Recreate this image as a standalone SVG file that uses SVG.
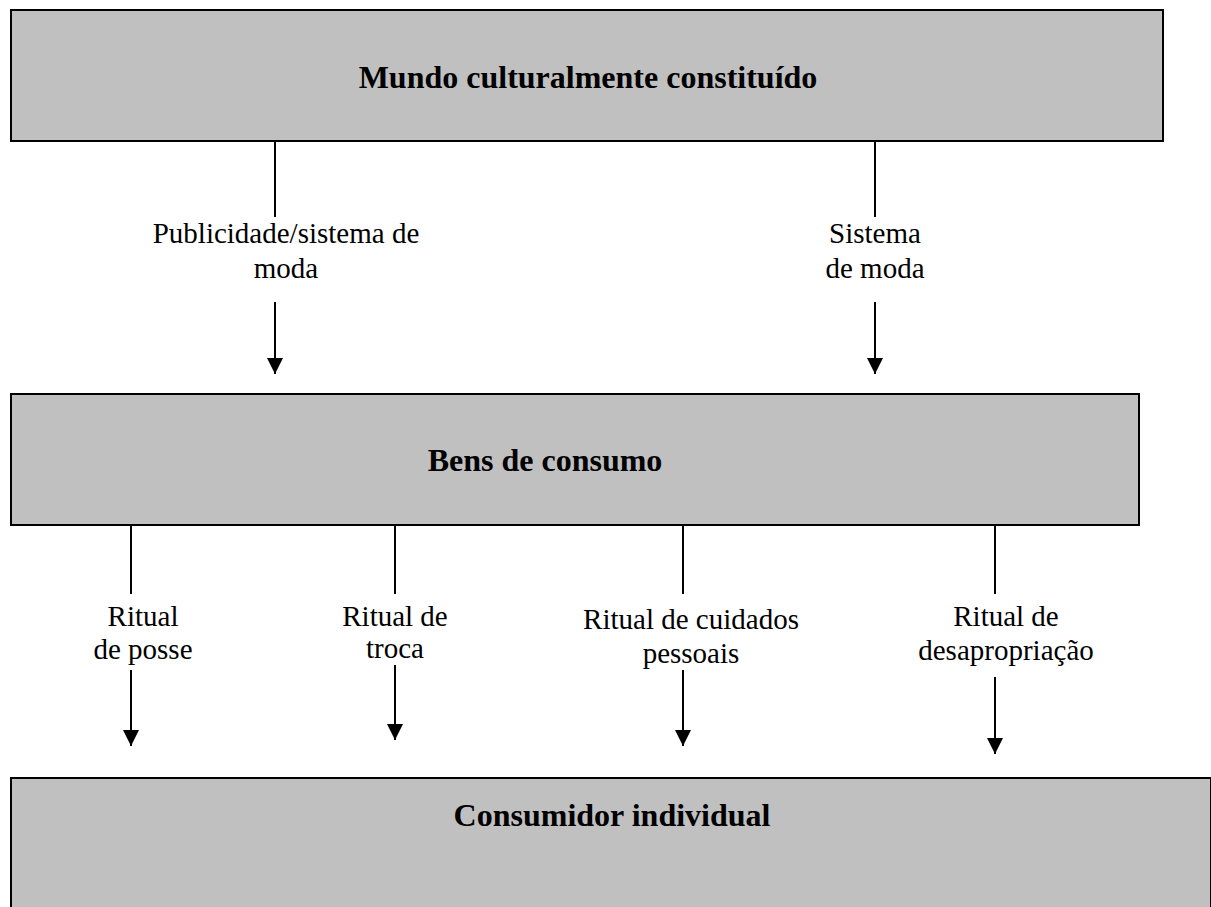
<svg xmlns="http://www.w3.org/2000/svg" width="1211" height="907" viewBox="0 0 1211 907">
<style>
.box{fill:#c0c0c0;stroke:#000;stroke-width:2}
.t{font-family:"Liberation Serif","Times New Roman",serif;font-weight:bold;font-size:32px;text-anchor:middle;fill:#000}
.l{font-family:"Liberation Serif","Times New Roman",serif;font-size:29px;text-anchor:middle;fill:#000}
.c{stroke:#000;stroke-width:2;fill:none}
</style>
<defs>
<marker id="ah" markerUnits="userSpaceOnUse" markerWidth="16" markerHeight="16" viewBox="0 0 16 16" refX="16" refY="8" orient="auto">
<path d="M0,0 L16,8 L0,16 Z" fill="#000"/>
</marker>
</defs>
<g id="node-mundo">
<rect class="box" x="11" y="10" width="1152" height="131"/>
<text class="t" x="588" y="88">Mundo culturalmente constituído</text>
</g>
<g id="node-bens">
<rect class="box" x="11" y="394" width="1128" height="131"/>
<text class="t" x="545" y="471">Bens de consumo</text>
</g>
<g id="node-consumidor">
<rect class="box" x="11" y="778" width="1200" height="140"/>
<text class="t" x="612" y="826">Consumidor individual</text>
</g>
<g id="connectors">
<line class="c" x1="275" y1="141" x2="275" y2="217"/>
<line class="c" x1="275" y1="302" x2="275" y2="374" marker-end="url(#ah)"/>
<line class="c" x1="875" y1="141" x2="875" y2="217"/>
<line class="c" x1="875" y1="302" x2="875" y2="374" marker-end="url(#ah)"/>
<line class="c" x1="131" y1="525" x2="131" y2="594"/>
<line class="c" x1="131" y1="670" x2="131" y2="746" marker-end="url(#ah)"/>
<line class="c" x1="395" y1="525" x2="395" y2="594"/>
<line class="c" x1="395" y1="665" x2="395" y2="740" marker-end="url(#ah)"/>
<line class="c" x1="683" y1="525" x2="683" y2="594"/>
<line class="c" x1="683" y1="670" x2="683" y2="746" marker-end="url(#ah)"/>
<line class="c" x1="995" y1="525" x2="995" y2="594"/>
<line class="c" x1="995" y1="677" x2="995" y2="754" marker-end="url(#ah)"/>
</g>
<g id="labels">
<text class="l" x="286" y="243">Publicidade/sistema de</text>
<text class="l" x="286" y="278">moda</text>
<text class="l" x="875" y="243">Sistema</text>
<text class="l" x="875" y="278">de moda</text>
<text class="l" x="143" y="626">Ritual</text>
<text class="l" x="143" y="659">de posse</text>
<text class="l" x="395" y="626">Ritual de</text>
<text class="l" x="395" y="658">troca</text>
<text class="l" x="691" y="629">Ritual de cuidados</text>
<text class="l" x="691" y="663">pessoais</text>
<text class="l" x="1006" y="626">Ritual de</text>
<text class="l" x="1006" y="660">desapropriação</text>
</g>
</svg>
